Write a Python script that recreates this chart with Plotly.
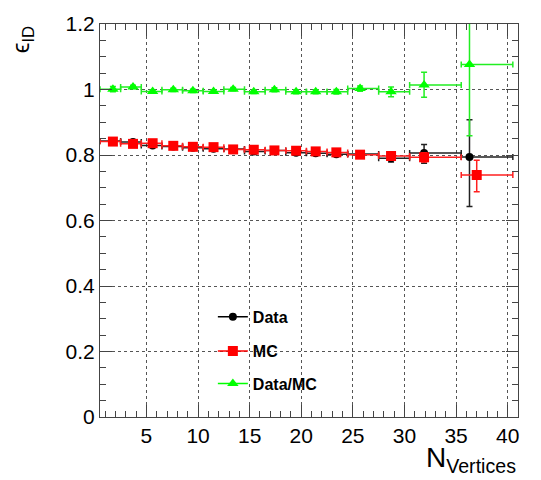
import plotly.graph_objects as go

# ---- data ----
bin_lo = [0.5, 2.5, 4.5, 6.5, 8.5, 10.5, 12.5, 14.5, 16.5, 18.5, 20.5, 22.5, 24.5, 27.5, 30.5, 35.5]
bin_hi = [2.5, 4.5, 6.5, 8.5, 10.5, 12.5, 14.5, 16.5, 18.5, 20.5, 22.5, 24.5, 27.5, 30.5, 35.5, 40.5]
x_data = [1.75, 3.7, 5.6, 7.6, 9.5, 11.5, 13.4, 15.4, 17.4, 19.5, 21.4, 23.4, 25.7, 28.7, 31.9, 36.3]
x_mc = [1.75, 3.7, 5.6, 7.6, 9.5, 11.5, 13.4, 15.4, 17.4, 19.5, 21.4, 23.4, 25.7, 28.7, 31.9, 37.0]

data_y = [0.843, 0.840, 0.829, 0.826, 0.822, 0.819, 0.818, 0.811, 0.814, 0.807, 0.805, 0.802, 0.803, 0.790, 0.806, 0.794]
data_err_up = [0.004, 0.004, 0.004, 0.004, 0.004, 0.004, 0.004, 0.004, 0.005, 0.005, 0.005, 0.006, 0.007, 0.011, 0.026, 0.114]
data_err_dn = [0.004, 0.004, 0.004, 0.004, 0.004, 0.004, 0.004, 0.004, 0.005, 0.005, 0.005, 0.006, 0.007, 0.011, 0.031, 0.151]

mc_y = [0.841, 0.834, 0.836, 0.828, 0.825, 0.824, 0.817, 0.816, 0.814, 0.813, 0.811, 0.808, 0.801, 0.797, 0.793, 0.739]
mc_err_up = [0.003, 0.003, 0.003, 0.003, 0.003, 0.003, 0.003, 0.003, 0.003, 0.003, 0.004, 0.004, 0.005, 0.007, 0.014, 0.045]
mc_err_dn = [0.003, 0.003, 0.003, 0.003, 0.003, 0.003, 0.003, 0.003, 0.003, 0.003, 0.004, 0.004, 0.005, 0.007, 0.014, 0.051]

ratio_y = [1.001, 1.008, 0.994, 0.999, 0.996, 0.994, 1.001, 0.993, 0.999, 0.993, 0.993, 0.993, 1.003, 0.993, 1.014, 1.076]
ratio_err_up = [0.008, 0.005, 0.005, 0.005, 0.005, 0.005, 0.005, 0.005, 0.006, 0.006, 0.006, 0.007, 0.008, 0.015, 0.039, 0.22]
ratio_err_dn = [0.008, 0.005, 0.005, 0.005, 0.005, 0.005, 0.005, 0.005, 0.006, 0.006, 0.006, 0.007, 0.008, 0.015, 0.038, 0.217]

x_ticks = [5, 10, 15, 20, 25, 30, 35, 40]
y_ticks = [0, 0.2, 0.4, 0.6, 0.8, 1.0, 1.2]
y_tick_text = ["0", "0.2", "0.4", "0.6", "0.8", "1", "1.2"]

FONT = "Liberation Sans, Arial, sans-serif"


def xerr(xs):
    plus = [h - x for x, h in zip(xs, bin_hi)]
    minus = [x - l for x, l in zip(xs, bin_lo)]
    return plus, minus


fig = go.Figure()

series = [
    ("Data", x_data, data_y, data_err_up, data_err_dn, "black", "#222222", "circle", 8, "legend"),
    ("MC", x_mc, mc_y, mc_err_up, mc_err_dn, "#ff0000", "#ff2020", "square", 10, "legend2"),
    ("Data/MC", x_data, ratio_y, ratio_err_up, ratio_err_dn, "#00ff00", "#22ee22", "triangle-up", 10, "legend3"),
]

for name, xs, ys, eu, ed, col, ecol, sym, size, lg in series:
    px, mx = xerr(xs)
    fig.add_trace(go.Scatter(
        x=xs, y=ys, mode="markers", name=name, showlegend=False,
        marker=dict(color=col, symbol=sym, size=size),
        error_x=dict(type="data", symmetric=False, array=px, arrayminus=mx,
                     color=ecol, thickness=1.5, width=3),
        error_y=dict(type="data", symmetric=False, array=eu, arrayminus=ed,
                     color=ecol, thickness=1.5, width=3),
    ))
    # legend entry
    fig.add_trace(go.Scatter(
        x=[None], y=[None], mode="lines+markers", name="<b>%s</b>" % name,
        legend=lg, showlegend=True,
        line=dict(color=col, width=1.5),
        marker=dict(color=col, symbol=sym, size=size),
    ))

axis_common = dict(
    showline=True, linecolor="#444444", linewidth=1, mirror="allticks",
    ticks="inside", ticklen=12, tickcolor="#444444",
    showgrid=True, gridcolor="#555555", griddash="dot", gridwidth=1,
    zeroline=False,
    tickfont=dict(family=FONT, size=21, color="black"),
)

fig.update_xaxes(
    range=[0.5, 41.0], tickvals=x_ticks,
    minor=dict(dtick=1, tick0=0, ticklen=6, ticks="inside", tickcolor="#444444", showgrid=False),
    **axis_common,
)
fig.update_yaxes(
    range=[0, 1.2], tickvals=y_ticks, ticktext=y_tick_text,
    minor=dict(dtick=0.05, tick0=0, ticklen=6, ticks="inside", tickcolor="#444444", showgrid=False),
    **axis_common,
)

leg_common = dict(
    font=dict(family=FONT, size=16, color="black"),
    bgcolor="rgba(0,0,0,0)", borderwidth=0,
    xanchor="left", yanchor="middle", x=0.27,
    itemwidth=30,
)

fig.update_layout(
    width=541, height=480,
    margin=dict(l=100, r=23, t=17, b=63),
    paper_bgcolor="white", plot_bgcolor="white",
    font=dict(family=FONT, color="black"),
    legend=dict(y=(417 - 315) / 400, **leg_common),
    legend2=dict(y=(417 - 350) / 400, **leg_common),
    legend3=dict(y=(417 - 383) / 400, **leg_common),
    annotations=[
        dict(text="N<sub>Vertices</sub>", xref="paper", yref="paper",
             x=1.0, y=-0.058, xanchor="right", yanchor="top", showarrow=False,
             font=dict(family=FONT, size=28, color="black")),
        dict(text="ϵ<sub>ID</sub>", xref="paper", yref="paper",
             x=-0.185, y=1.0, xanchor="center", yanchor="top", showarrow=False,
             textangle=-90,
             font=dict(family=FONT, size=24, color="black")),
    ],
)

fig.write_html("out.html")
